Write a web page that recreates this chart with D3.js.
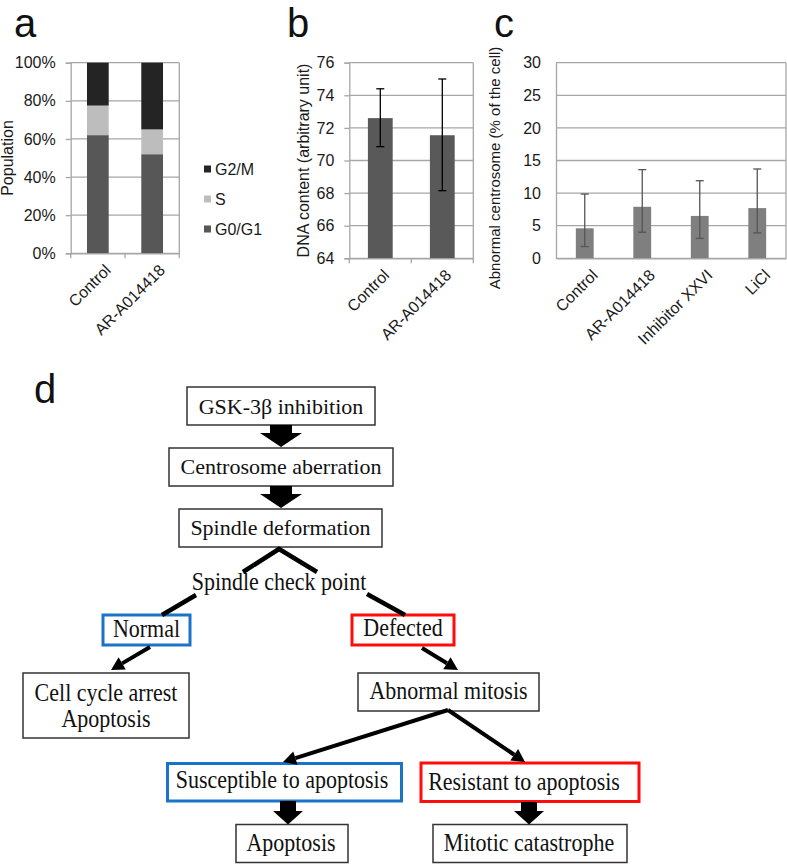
<!DOCTYPE html>
<html><head><meta charset="utf-8">
<script src="https://cdn.jsdelivr.net/npm/d3@7"></script>
<style>body{margin:0;background:#fff}svg{display:block}</style>
</head><body><svg id="fig" width="787" height="864"></svg>
<script>
// ---------- Panel a data ----------
const phaseCategories = ["Control", "AR-A014418"];
const phaseSeries = ["G0/G1", "S", "G2/M"];
const g0g1Values = [62, 52];
const sValues = [15.5, 13];
const g2mValues = [22.5, 35];
const percentTicks = [0, 20, 40, 60, 80, 100];
const legendOrder = ["G2/M", "S", "G0/G1"];

// ---------- Panel b data ----------
const dnaCategories = ["Control", "AR-A014418"];
const dnaMeans = [72.6, 71.55];
const dnaErrUpper = [74.4, 75.0];
const dnaErrLower = [70.85, 68.15];
const dnaTicks = [64, 66, 68, 70, 72, 74, 76];

// ---------- Panel c data ----------
const centCategories = ["Control", "AR-A014418", "Inhibitor XXVI", "LiCl"];
const centMeans = [4.6, 7.9, 6.5, 7.7];
const centErrUpper = [9.85, 13.6, 11.9, 13.7];
const centErrLower = [1.8, 4.0, 3.05, 3.9];
const centTicks = [0, 5, 10, 15, 20, 25, 30];

// ---------- Panel d labels ----------
const flowTexts = ["GSK-3\u03B2 inhibition", "Centrosome aberration", "Spindle deformation",
  "Spindle check point", "Normal", "Defected", "Cell cycle arrest", "Apoptosis",
  "Abnormal mitosis", "Susceptible to apoptosis", "Resistant to apoptosis",
  "Apoptosis", "Mitotic catastrophe"];

const svg = d3.select("#fig");
const SANS = "'Liberation Sans', Arial, sans-serif";
const SERIF = "'Liberation Serif', 'Times New Roman', serif";
const GRID = "#a6a6a6";

// panel letters
[["a", 14, 37], ["b", 287, 37], ["c", 494, 37], ["d", 34, 403]].forEach(([t, x, y]) => {
  svg.append("text").attr("x", x).attr("y", y).text(t)
    .attr("font-family", SANS).attr("font-size", 40).attr("fill", "#111");
});

function frame(g, x0, x1, y, ticks, opts) {
  g.selectAll(null).data(ticks).enter().append("line")
    .attr("x1", x0).attr("x2", x1).attr("y1", d => y(d)).attr("y2", d => y(d))
    .attr("stroke", GRID).attr("stroke-width", 1.3);
  g.append("line").attr("x1", x1).attr("x2", x1).attr("y1", y.range()[1]).attr("y2", y.range()[0])
    .attr("stroke", GRID).attr("stroke-width", 1.3);
  const ax = g.append("g").attr("transform", `translate(${x0},0)`)
    .call(d3.axisLeft(y).tickValues(ticks).tickSize(opts.tick).tickPadding(opts.pad).tickFormat(opts.fmt));
  ax.select(".domain").attr("stroke", GRID).attr("stroke-width", 1.3);
  ax.selectAll(".tick line").attr("stroke", GRID).attr("stroke-width", 1.3);
  ax.selectAll("text").attr("font-family", SANS).attr("font-size", 16).attr("fill", "#1a1a1a");
  return ax;
}

function xAxis(g, x, yb, ticksOn, dx) {
  const ax = g.append("g").attr("transform", `translate(0,${yb})`)
    .call(d3.axisBottom(x).tickSize(0).tickFormat(""));
  ax.select(".domain").attr("stroke", GRID).attr("stroke-width", 1.3);
  if (ticksOn) {
    const r = x.range();
    const step = x.step();
    const bounds = d3.range(x.domain().length + 1).map(i => r[0] + i * step);
    g.selectAll(null).data(bounds).enter().append("line")
      .attr("x1", d => d).attr("x2", d => d).attr("y1", yb).attr("y2", yb + 5)
      .attr("stroke", GRID).attr("stroke-width", 1.3);
  }
  g.selectAll(null).data(x.domain()).enter().append("text")
    .attr("transform", d => `translate(${x(d) + x.bandwidth() / 2 + dx},${yb + 10}) rotate(-45)`)
    .attr("text-anchor", "end").attr("dy", "0.7em")
    .attr("font-family", SANS).attr("font-size", 16).attr("fill", "#1a1a1a").text(d => d);
}

function yTitle(g, x, yc, text, fs) {
  g.append("text").attr("transform", `translate(${x},${yc}) rotate(-90)`)
    .attr("text-anchor", "middle").attr("font-family", SANS).attr("font-size", fs || 16)
    .attr("fill", "#1a1a1a").text(text);
}

// ---------- Panel a ----------
{
  const g = svg.append("g");
  const x = d3.scaleBand().domain(phaseCategories).range([70.7, 179.3]).paddingInner(0.6).paddingOuter(0.3);
  const y = d3.scaleLinear().domain([0, 100]).range([253.3, 62.7]);
  frame(g, 70.7, 179.3, y, percentTicks, {tick: 5, pad: 10, fmt: d => d + "%"});
  const rows = phaseCategories.map((c, i) => ({cat: c, "G0/G1": g0g1Values[i], "S": sValues[i], "G2/M": g2mValues[i]}));
  const stack = d3.stack().keys(phaseSeries)(rows);
  const color = d3.scaleOrdinal().domain(phaseSeries).range(["#575757", "#bdbdbd", "#242424"]);
  g.selectAll(null).data(stack).enter().append("g").attr("fill", d => color(d.key))
    .selectAll("rect").data(d => d).enter().append("rect")
    .attr("x", d => x(d.data.cat)).attr("width", x.bandwidth())
    .attr("y", d => y(d[1])).attr("height", d => y(d[0]) - y(d[1]));
  xAxis(g, x, 253.3, true, 6);
  yTitle(g, 13, 158, "Population");
  const lg = g.append("g");
  legendOrder.forEach((k, i) => {
    const cy = 169 + i * 30;
    lg.append("rect").attr("x", 204).attr("y", cy - 3.5).attr("width", 7).attr("height", 7).attr("fill", color(k));
    lg.append("text").attr("x", 215).attr("y", cy).attr("dy", "0.36em")
      .attr("font-family", SANS).attr("font-size", 16).attr("fill", "#1a1a1a").text(k);
  });
}

// ---------- Panel b ----------
{
  const g = svg.append("g");
  const x = d3.scaleBand().domain(dnaCategories).range([349.3, 473.3]).paddingInner(0.6).paddingOuter(0.3);
  const y = d3.scaleLinear().domain([64, 76]).range([258.3, 62.7]);
  frame(g, 349.3, 473.3, y, dnaTicks, {tick: 5, pad: 10, fmt: d3.format("d")});
  g.selectAll(null).data(dnaCategories).enter().append("rect")
    .attr("x", d => x(d)).attr("width", x.bandwidth())
    .attr("y", (d, i) => y(dnaMeans[i])).attr("height", (d, i) => y(64) - y(dnaMeans[i]))
    .attr("fill", "#595959");
  const eb = g.selectAll(null).data(dnaCategories).enter().append("g").attr("stroke", "#000").attr("stroke-width", 1.3);
  const cx = d => x(d) + x.bandwidth() / 2;
  eb.append("line").attr("x1", cx).attr("x2", cx)
    .attr("y1", (d, i) => y(dnaErrUpper[i])).attr("y2", (d, i) => y(dnaErrLower[i]));
  eb.append("line").attr("x1", d => cx(d) - 4).attr("x2", d => cx(d) + 4)
    .attr("y1", (d, i) => y(dnaErrUpper[i])).attr("y2", (d, i) => y(dnaErrUpper[i]));
  eb.append("line").attr("x1", d => cx(d) - 4).attr("x2", d => cx(d) + 4)
    .attr("y1", (d, i) => y(dnaErrLower[i])).attr("y2", (d, i) => y(dnaErrLower[i]));
  xAxis(g, x, 258.3, true, 2);
  yTitle(g, 309, 160.5, "DNA content (arbitrary unit)");
}

// ---------- Panel c ----------
{
  const g = svg.append("g");
  const x = d3.scaleBand().domain(centCategories).range([556, 786]).paddingInner(0.69).paddingOuter(0.345);
  const y = d3.scaleLinear().domain([0, 30]).range([258.3, 62.7]);
  frame(g, 556, 786, y, centTicks, {tick: 0, pad: 15, fmt: d3.format("d")});
  g.selectAll(null).data(centCategories).enter().append("rect")
    .attr("x", d => x(d)).attr("width", x.bandwidth())
    .attr("y", (d, i) => y(centMeans[i])).attr("height", (d, i) => y(0) - y(centMeans[i]))
    .attr("fill", "#7f7f7f");
  const eb = g.selectAll(null).data(centCategories).enter().append("g").attr("stroke", "#555").attr("stroke-width", 1.3);
  const cx = d => x(d) + x.bandwidth() / 2;
  eb.append("line").attr("x1", cx).attr("x2", cx)
    .attr("y1", (d, i) => y(centErrUpper[i])).attr("y2", (d, i) => y(centErrLower[i]));
  eb.append("line").attr("x1", d => cx(d) - 4).attr("x2", d => cx(d) + 4)
    .attr("y1", (d, i) => y(centErrUpper[i])).attr("y2", (d, i) => y(centErrUpper[i]));
  eb.append("line").attr("x1", d => cx(d) - 4).attr("x2", d => cx(d) + 4)
    .attr("y1", (d, i) => y(centErrLower[i])).attr("y2", (d, i) => y(centErrLower[i]));
  xAxis(g, x, 258.3, false, 6);
  yTitle(g, 500, 168, "Abnormal centrosome (% of the cell)", 15);
}

// ---------- Panel d (flowchart) ----------
{
  const g = svg.append("g");
  const BLUE = "#1a73c9", RED = "#ff0d0d";
  const boxes = [
    {x: 187, y: 387, w: 188, h: 38, c: "#333", sw: 1.5},
    {x: 169, y: 448, w: 224, h: 38, c: "#333", sw: 1.5},
    {x: 179, y: 509, w: 203, h: 38, c: "#333", sw: 1.5},
    {x: 103, y: 615, w: 87, h: 30, c: BLUE, sw: 3},
    {x: 352, y: 615, w: 102, h: 30, c: RED, sw: 3},
    {x: 23, y: 673, w: 166, h: 65, c: "#333", sw: 1.5},
    {x: 358, y: 673, w: 181, h: 38, c: "#333", sw: 1.5},
    {x: 167.5, y: 763.5, w: 234, h: 37.5, c: BLUE, sw: 3},
    {x: 421, y: 763, w: 218, h: 38.5, c: RED, sw: 3},
    {x: 236, y: 824.5, w: 112, h: 38, c: "#333", sw: 1.5},
    {x: 433, y: 824.5, w: 194, h: 38, c: "#333", sw: 1.5}
  ];
  g.selectAll(null).data(boxes).enter().append("rect")
    .attr("x", d => d.x).attr("y", d => d.y).attr("width", d => d.w).attr("height", d => d.h)
    .attr("fill", "#fff").attr("stroke", d => d.c).attr("stroke-width", d => d.sw);

  const blocks = [
    {cx: 281, y0: 425, yh: 433, yt: 447, s: 11, h: 21},
    {cx: 281, y0: 486, yh: 494, yt: 508, s: 11, h: 21},
    {cx: 288, y0: 801, yh: 811, yt: 824.5, s: 8, h: 15},
    {cx: 529, y0: 802, yh: 811, yt: 824.5, s: 8, h: 15}
  ];
  g.selectAll(null).data(blocks).enter().append("path")
    .attr("d", b => d3.line()([[b.cx - b.s, b.y0], [b.cx + b.s, b.y0], [b.cx + b.s, b.yh], [b.cx + b.h, b.yh],
      [b.cx, b.yt], [b.cx - b.h, b.yh], [b.cx - b.s, b.yh]]) + "Z")
    .attr("fill", "#000");

  const lines = [
    [[243, 572], [279, 549], [317, 572]],
    [[196, 595], [162, 615]],
    [[367, 594], [405, 615]]
  ];
  g.selectAll(null).data(lines).enter().append("path")
    .attr("d", d => d3.line()(d)).attr("fill", "none").attr("stroke", "#000").attr("stroke-width", 4.5);

  const arrows = [
    [[150, 647], [111, 670]],
    [[422, 648], [458, 670]],
    [[448, 710], [283, 762]],
    [[448, 710], [525, 762]]
  ];
  arrows.forEach(([p0, p1]) => {
    const ang = Math.atan2(p1[1] - p0[1], p1[0] - p0[0]);
    const L = 13, W = 7;
    const bx = p1[0] - L * Math.cos(ang), by = p1[1] - L * Math.sin(ang);
    g.append("line").attr("x1", p0[0]).attr("y1", p0[1]).attr("x2", bx).attr("y2", by)
      .attr("stroke", "#000").attr("stroke-width", 4);
    const nx = -Math.sin(ang), ny = Math.cos(ang);
    g.append("path").attr("d", d3.line()([[p1[0], p1[1]], [bx + nx * W, by + ny * W], [bx - nx * W, by - ny * W]]) + "Z")
      .attr("fill", "#000");
  });

  const textPos = [
    {x: 281, y: 414, s: 1}, {x: 281, y: 474, s: 1}, {x: 280.5, y: 535, s: 1},
    {x: 279, y: 590, s: 1.15}, {x: 146.5, y: 637, s: 1.15}, {x: 403, y: 636, s: 1.15},
    {x: 106, y: 701, s: 1.15}, {x: 106, y: 727, s: 1.15},
    {x: 448.5, y: 699, s: 1.15}, {x: 282, y: 787.5, s: 1.15}, {x: 524, y: 789.5, s: 1.15},
    {x: 291, y: 851, s: 1.15}, {x: 529, y: 851, s: 1.15}
  ];
  g.selectAll(null).data(flowTexts).enter().append("text")
    .attr("transform", (d, i) => `translate(${textPos[i].x},${textPos[i].y}) scale(1,${textPos[i].s})`)
    .attr("text-anchor", "middle").attr("font-family", SERIF).attr("font-size", 22).attr("fill", "#111")
    .text(d => d);
}
</script></body></html>
